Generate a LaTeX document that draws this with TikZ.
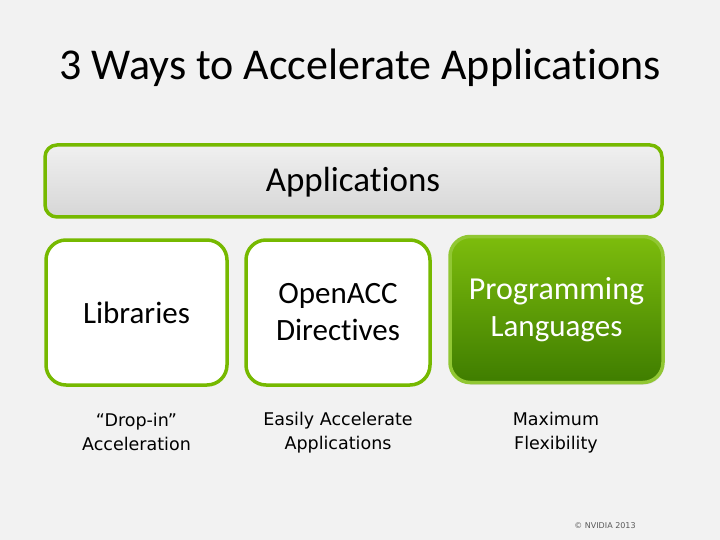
\documentclass[tikz,border=0pt]{standalone}
\usepackage{fontspec}
\setmainfont{Carlito}[Ligatures={NoCommon}]
\newfontfamily\notefont{DejaVu Sans}
\usetikzlibrary{positioning,shadows}

\definecolor{nvgreen}{HTML}{76B900}
\definecolor{nvdark}{HTML}{3F7D00}
\definecolor{slidebg}{HTML}{F2F2F2}

\tikzset{
  waybox/.style={draw=nvgreen, line width=3.5pt, rounded corners=20pt, fill=white,
    minimum height=145pt, align=center, font=\fontsize{31}{37}\selectfont},
  waynote/.style={align=center, font=\notefont\fontsize{17.5}{24}\selectfont},
}

\begin{document}
\begin{tikzpicture}[x=1pt,y=-1pt]
		% Slide background
		\fill[slidebg] (0,0) rectangle (720,540);
		\useasboundingbox (0,0) rectangle (720,540);

		% Title
		\node (title) at (360,68) {\fontsize{44}{46}\selectfont 3 Ways to Accelerate Applications};

		% Applications bar
		\node[draw=nvgreen, line width=3.5pt, rounded corners=12pt,
			top color=white!88!gray, bottom color=gray!32,
			minimum width=617pt, minimum height=72pt] (apps) at (353.5,181) {};
		\node (appstext) at (353,182) {\fontsize{35}{37}\selectfont Applications};

		% The three ways
		\node[waybox, minimum width=181pt] (libs) at (136.5,312.5) {Libraries};
		\node[waybox, minimum width=184pt] (acc) at (338,312.5) {OpenACC\\Directives};
		\node[waybox, minimum width=213pt, minimum height=146pt, draw=nvgreen!80,
			top color=nvgreen!95!white, bottom color=nvdark, text=white,
			drop shadow={opacity=0.25, shadow xshift=1pt, shadow yshift=-2pt}] (lang) at (556.5,309.5)
			{\fontsize{32}{38}\selectfont Programming\\Languages};

		% Notes under the boxes
		\node[waynote] (libsnote) at (136.5,432) {“Drop-in”\\Acceleration};
		\node[waynote] (accnote) at (338,433) {Easily Accelerate\\Applications};
		\node[waynote] (langnote) at (556,433) {Maximum\\Flexibility};

		% Copyright
		\node[text=gray!70!black] (copy) at (605,526) {\notefont\fontsize{8}{9}\selectfont © NVIDIA 2013};
	\end{tikzpicture}
\end{document}
